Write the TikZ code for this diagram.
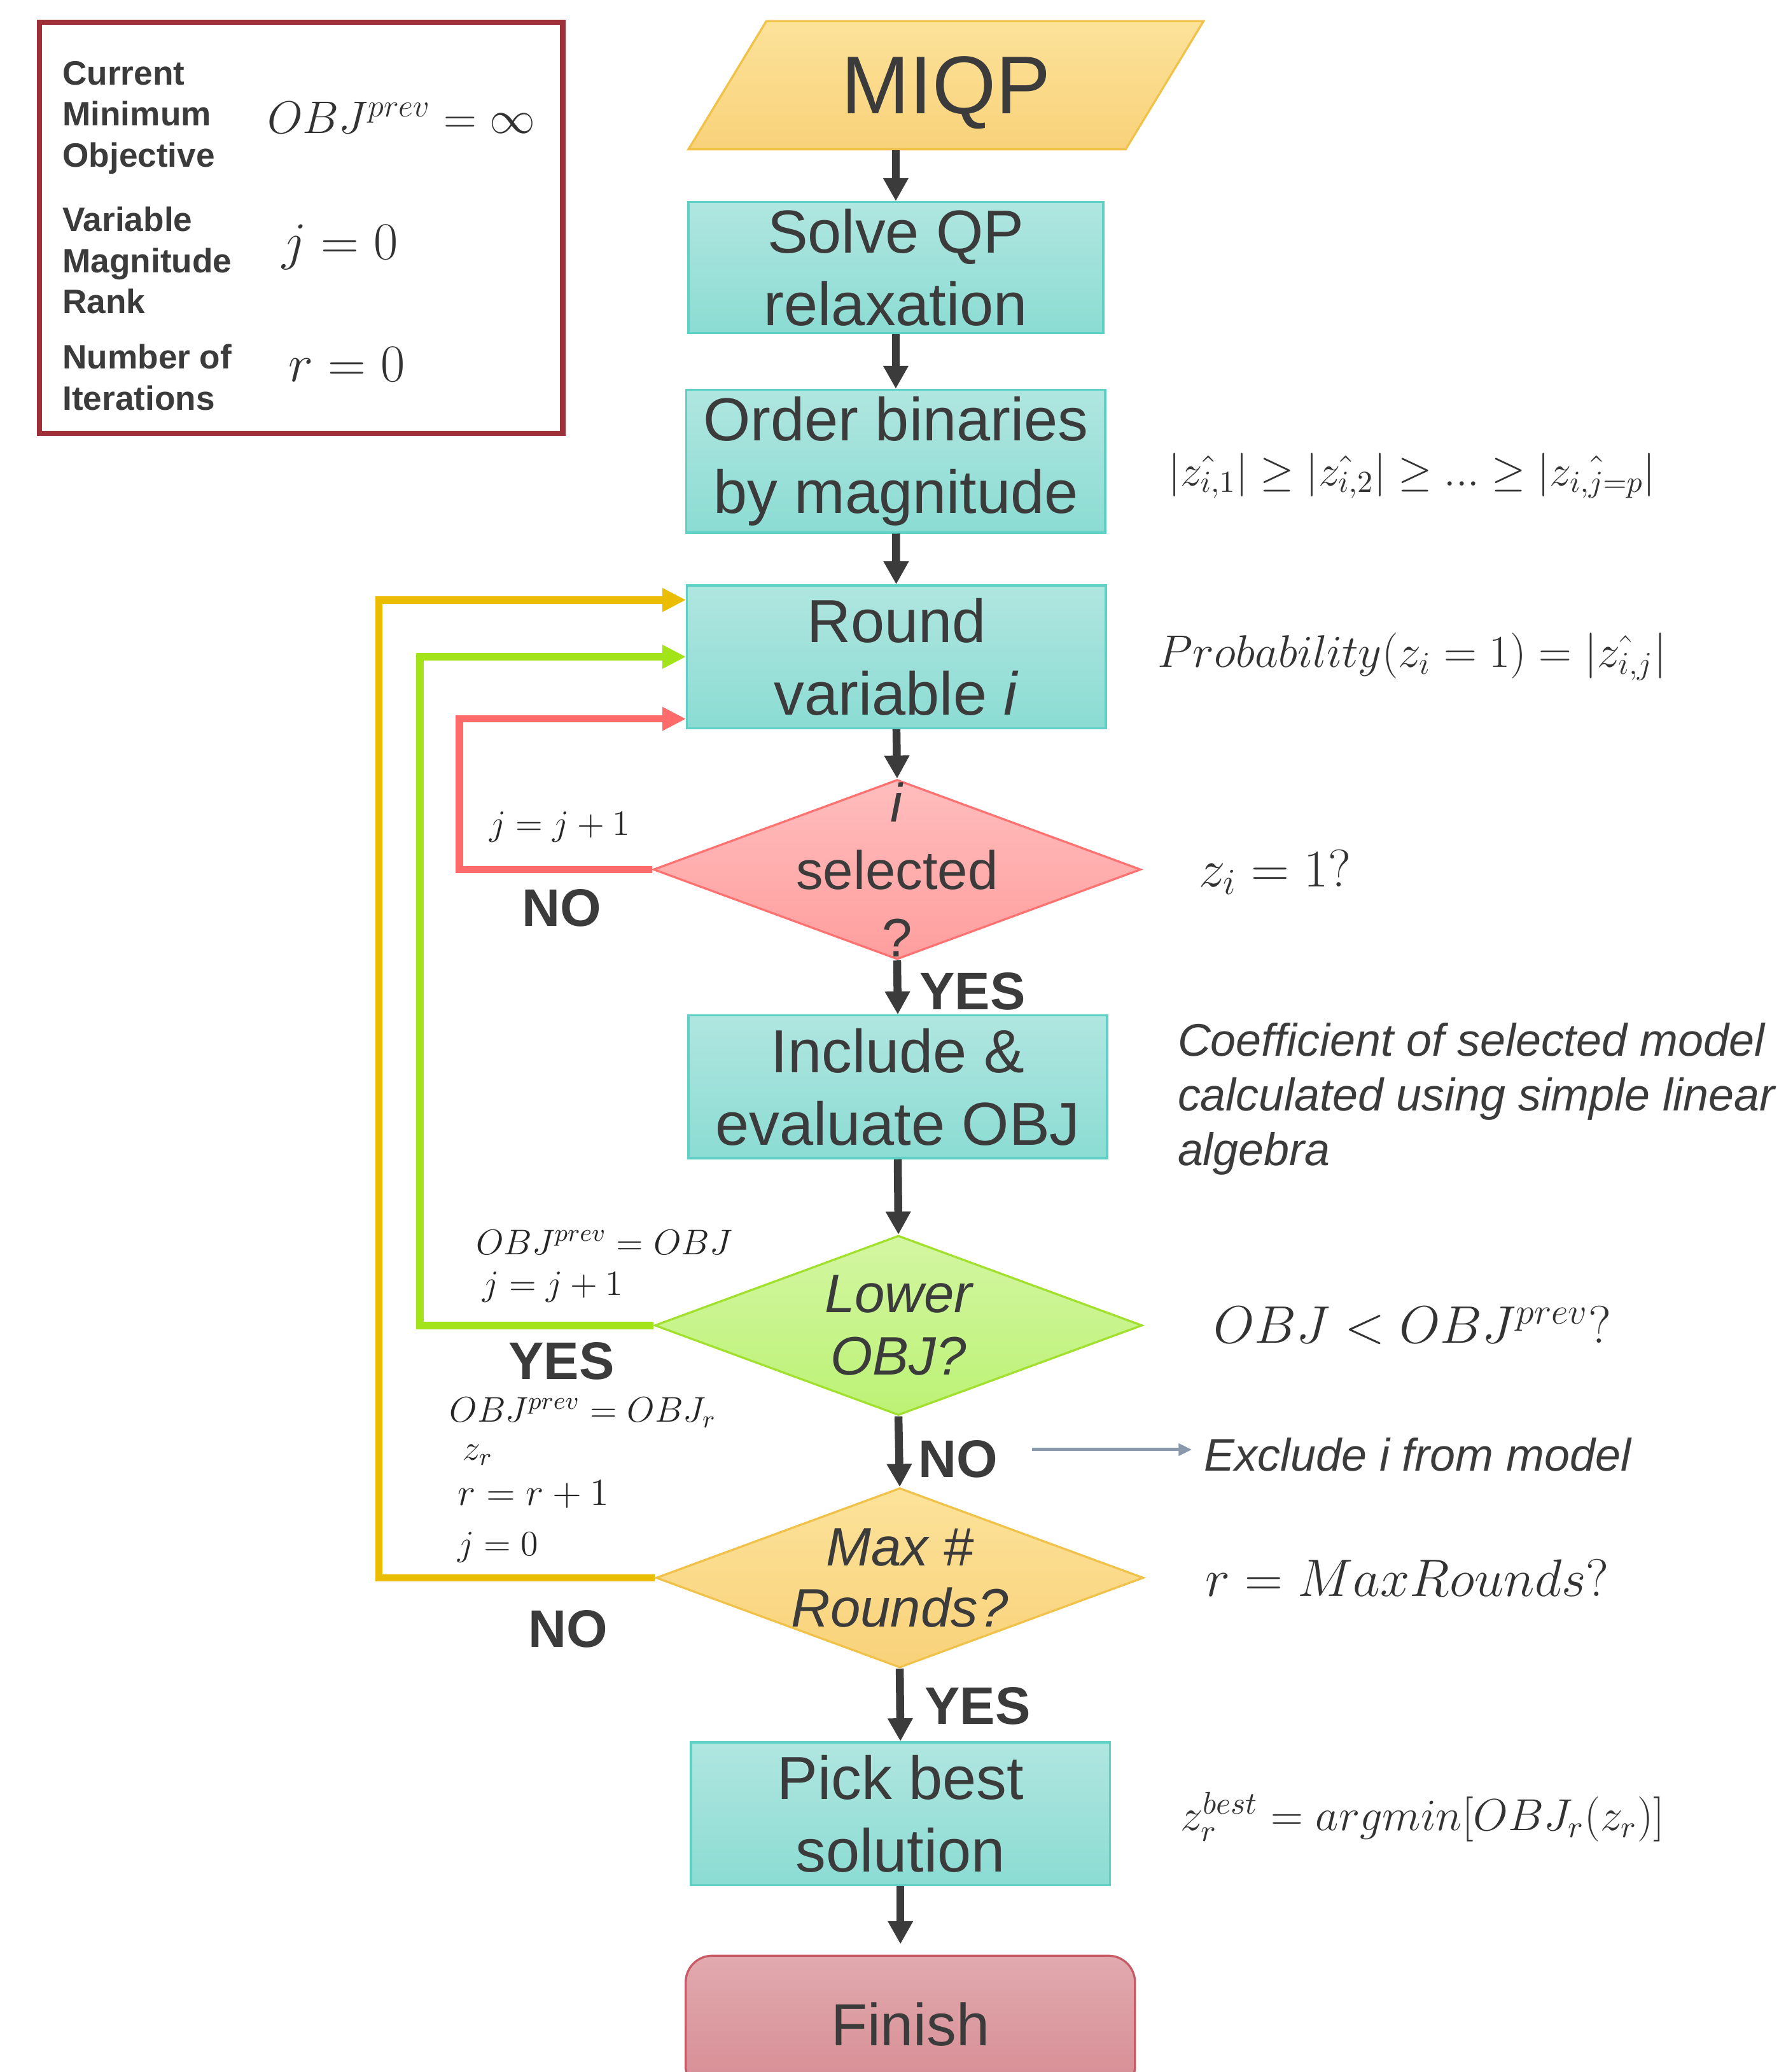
\RequirePackage{fix-cm}
\documentclass[tikz,border=0pt]{standalone}
\usepackage[no-math]{fontspec}
\setmainfont{Liberation Sans}
\usepackage{amsmath,amssymb}
\usetikzlibrary{shapes.geometric,arrows.meta,calc}

\definecolor{inkgray}{HTML}{3B3B3B}
\definecolor{tealtop}{HTML}{B0E6E0}
\definecolor{tealbot}{HTML}{8BDCD3}
\definecolor{tealedge}{HTML}{5FD0C6}
\definecolor{goldtop}{HTML}{FCE29A}
\definecolor{goldbot}{HTML}{F9D27A}
\definecolor{goldedge}{HTML}{F0C24A}
\definecolor{pinktop}{HTML}{FFBDBD}
\definecolor{pinkbot}{HTML}{FF9E9E}
\definecolor{pinkedge}{HTML}{FF7272}
\definecolor{limetop}{HTML}{D3F6A2}
\definecolor{limebot}{HTML}{BCF275}
\definecolor{limeedge}{HTML}{A2E02E}
\definecolor{rosetop}{HTML}{E1AAAE}
\definecolor{rosebot}{HTML}{D68C93}
\definecolor{roseedge}{HTML}{C85A66}
\definecolor{loopred}{HTML}{FF6B6B}
\definecolor{looplime}{HTML}{A3E31A}
\definecolor{loopgold}{HTML}{EBBD00}
\definecolor{legendred}{HTML}{9D3039}
\definecolor{pointer}{HTML}{8A98AC}

\begin{document}
\begin{tikzpicture}[x=0.5pt, y=-0.5pt,
        every node/.style={text=inkgray},
        stepbox/.style={rectangle, draw=tealedge, line width=0.8pt, top color=tealtop, bottom color=tealbot,
            minimum width=158.5pt, minimum height=54pt, inner sep=0pt, align=center,
            font=\fontsize{23}{27.5}\selectfont},
        decision/.style={diamond, line width=0.8pt, minimum width=184.5pt, minimum height=68pt, inner sep=0pt},
        dtext/.style={align=center, inner sep=0pt, font=\fontsize{20.5}{24}\selectfont},
        flow/.style={line width=3pt, draw=inkgray, -{Triangle[length=8.7pt,width=9pt]}},
        backedge/.style={line width=2.8pt, -{Triangle[length=9pt,width=8.5pt]}},
        verdict/.style={inner sep=0pt, font=\fontsize{20}{24}\selectfont\bfseries},
        update/.style={anchor=west, inner sep=0pt, text=black!85, font=\fontsize{13.5}{16}\selectfont},
        keytext/.style={anchor=west, align=left, inner sep=0pt, font=\fontsize{12.8}{15.5}\selectfont\bfseries},
        remark/.style={anchor=west, inner sep=0pt, text=black!80}]

                    \useasboundingbox (0,0) rectangle (1346,1568);

                    \node[draw=legendred, line width=2pt, minimum width=198pt, minimum height=155.5pt] (legend) at (228,172.5) {};
                    \node[keytext] (keyobj) at (47,89) {Current\\Minimum\\Objective};
                    \node[keytext] (keyrank) at (47,197) {Variable\\Magnitude\\Rank};
                    \node[keytext] (keyiter) at (47,285.5) {Number of\\Iterations};
                    \node[remark, font=\fontsize{17.3}{21}\selectfont] (initobj) at (202,89) {$OBJ^{prev}=\infty$};
                    \node[remark, font=\fontsize{20}{24}\selectfont] (initj) at (213,187) {$j=0$};
                    \node[remark, font=\fontsize{20}{24}\selectfont] (initr) at (218,276) {$r=0$};

                    \node[trapezium, trapezium left angle=51.6, trapezium right angle=128.4, trapezium stretches=true,
                        draw=goldedge, line width=0.8pt, top color=goldtop, bottom color=goldbot,
                        minimum width=195pt, minimum height=48.5pt, inner sep=0pt, text depth=0pt,
                        font=\fontsize{31}{36}\selectfont] (miqp) at (716,64.5) {MIQP};
                    \node[stepbox, minimum width=157pt, minimum height=49.5pt] (solve) at (678,202.5) {Solve QP\\relaxation};
                    \node[stepbox] (order) at (678,349) {Order binaries\\by magnitude};
                    \node[stepbox] (round) at (678.5,497) {Round\\variable \textit{i}};
                    \node[decision, draw=pinkedge, top color=pinktop, bottom color=pinkbot] (sel) at (679,658) {};
                    \node[dtext, font=\fontsize{20.5}{25.5}\selectfont] at (sel) {\textit{i}\\selected\\?};
                    \node[stepbox] (include) at (679.5,822.5) {Include \&\\evaluate OBJ};
                    \node[decision, draw=limeedge, top color=limetop, bottom color=limebot] (lower) at (680,1003) {};
                    \node[dtext, font=\fontsize{20.5}{23.5}\selectfont\itshape] at (lower) {Lower\\OBJ?};
                    \node[decision, draw=goldedge, top color=goldtop, bottom color=goldbot] (max) at (681,1194) {};
                    \node[dtext, font=\fontsize{20.5}{23}\selectfont\itshape] at (max) {Max \#\\Rounds?};
                    \node[stepbox] (pick) at (681.5,1372.5) {Pick best\\solution};
                    \node[rectangle, rounded corners=10pt, draw=roseedge, line width=0.8pt, top color=rosetop, bottom color=rosebot,
                        minimum width=170pt, minimum height=52pt, font=\fontsize{22.5}{27}\selectfont] (finish) at (689,1532) {Finish};

                    \draw[flow] (miqp.south -| solve.north) -- (solve.north);
                    \draw[flow] (solve) -- (order);
                    \draw[flow] (order) -- (round);
                    \draw[flow] (round.south) -- (sel.north);
                    \draw[flow] (sel.south) -- (include.north);
                    \draw[flow] (include.south) -- (lower.north);
                    \draw[flow] (lower.south) -- (max.north);
                    \draw[flow] (max.south) -- (pick.north);
                    \draw[flow, shorten >=4pt] (pick.south) -- (pick.south |- finish.north);

                    \node[verdict] (yes1) at (736,750) {YES};
                    \node[verdict] (no2) at (725,1104) {NO};
                    \node[verdict] (yes3) at (740,1291) {YES};

                    \draw[backedge, draw=loopred] (sel.west) -- ++(-146,0) |- ([yshift=-23.5pt]round.west);
                    \draw[backedge, draw=looplime] (lower.west) -- ++(-177,0) |- (round.west);
                    \draw[backedge, draw=loopgold] (max.west) -- ++(-209,0) |- ([yshift=21.5pt]round.west);

                    \node[update] (redj) at (370,626) {$j=j+1$};
                    \node[verdict] (no1) at (425,687) {NO};
                    \node[update] (limeobj) at (360,940) {$OBJ^{prev}=OBJ$};
                    \node[update] (limej) at (365,974) {$j=j+1$};
                    \node[verdict] (yes2) at (425,1030) {YES};
                    \node[update] (goldobj) at (340,1069) {$OBJ^{prev}=OBJ_r$};
                    \node[update] (goldz) at (350,1101) {$z_r$};
                    \node[update, font=\fontsize{14.5}{17}\selectfont] (goldr) at (346,1131) {$r=r+1$};
                    \node[update] (goldj) at (346,1171) {$j=0$};
                    \node[verdict] (no3) at (430,1233) {NO};

                    \node[remark, font=\fontsize{16.5}{20}\selectfont] (ranking) at (884,360)
                        {$|\hat{z_{i,1}}|\geq|\hat{z_{i,2}}|\geq...\geq|\hat{z_{i,j=p}}|$};
                    \node[remark, font=\fontsize{17.3}{21}\selectfont] (prob) at (876,497)
                        {$Probability(z_i=1)=|\hat{z_{i,j}}|$};
                    \node[remark, font=\fontsize{20}{24}\selectfont] (selq) at (907,660) {$z_i=1?$};
                    \node[remark, align=left, text=inkgray, font=\fontsize{17.3}{20.75}\selectfont\itshape] (coef) at (891,831.5)
                        {Coefficient of selected model\\calculated using simple linear\\algebra};
                    \node[remark, font=\fontsize{20}{24}\selectfont] (lowq) at (918,1003) {$OBJ<OBJ^{prev}?$};
                    \node[remark, text=inkgray, font=\fontsize{17.3}{21}\selectfont\itshape] (exclude) at (911,1101) {Exclude i from model};
                    \node[remark, font=\fontsize{20}{24}\selectfont] (maxq) at (912,1194) {$r=MaxRounds?$};
                    \node[remark, font=\fontsize{17}{21}\selectfont] (best) at (893,1375) {$z_r^{best}=argmin[OBJ_r(z_r)]$};

                    \coordinate (exfrom) at (781,1097);
                    \draw[line width=1.2pt, draw=pointer, -{Triangle[length=5pt,width=4.5pt]}, shorten >=4.5pt] (exfrom) -- (exfrom -| exclude.west);

                \end{tikzpicture}
\end{document}
